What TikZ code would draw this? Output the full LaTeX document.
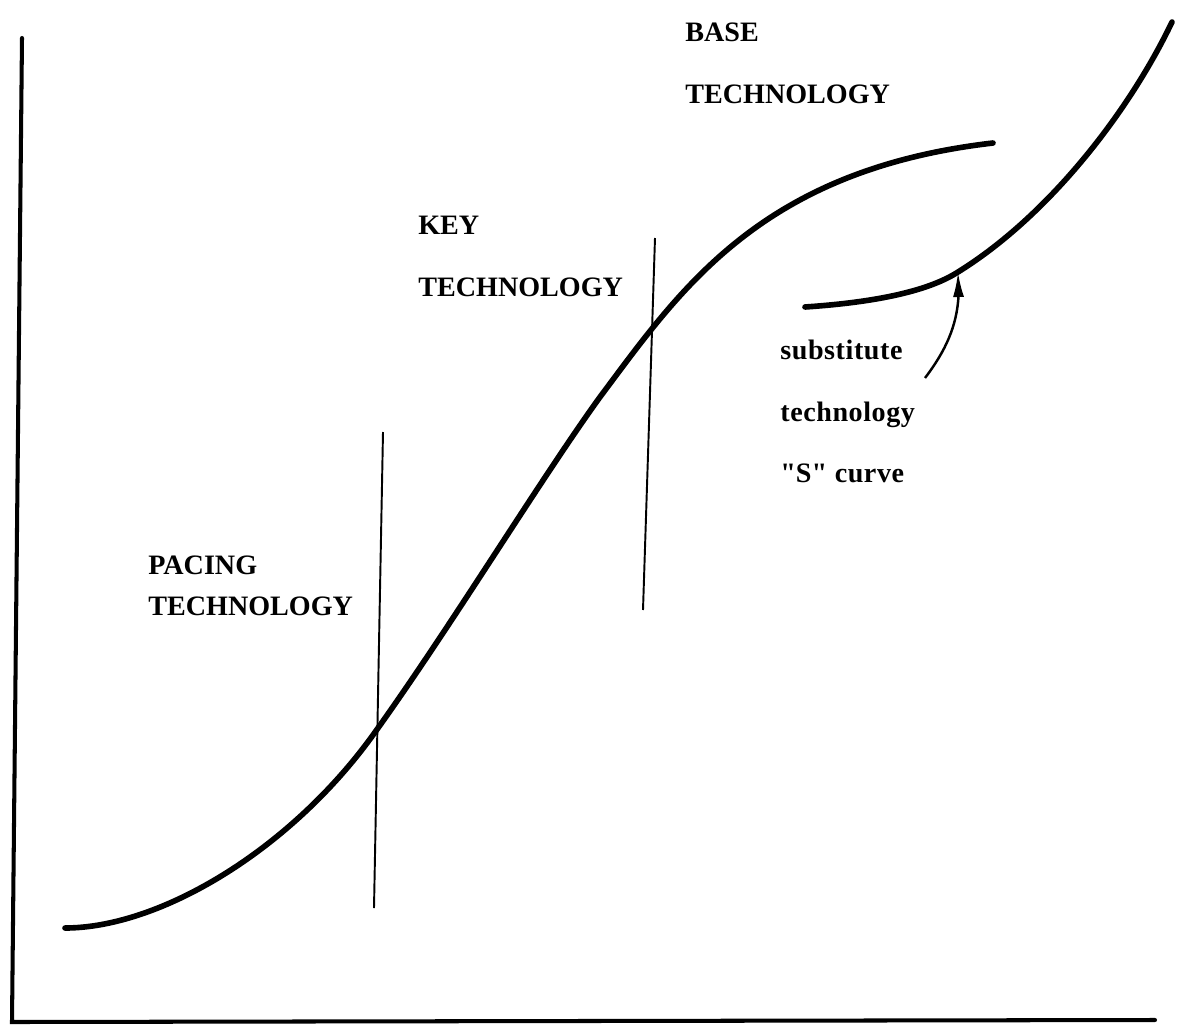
\documentclass[tikz,border=0pt]{standalone}
\usepackage{fontspec}
\setmainfont{Liberation Serif}
\usetikzlibrary{arrows.meta,bending,positioning}
\tikzset{
    %Define style for the axes
    axis/.style={
           line width=2.3pt,
           line cap=round},
    %Define style for the S curves
    scurve/.style={
           line width=3.2pt,
           line cap=round,
           line join=round},
    %Define style for the dividers
    divider/.style={
           line width=1.1pt},
    %Define style for the labels
    caps/.style={
           anchor=north west,
           inner sep=0pt,
           align=left,
           font=\fontsize{16}{35}\selectfont\bfseries},
    lower/.style={
           anchor=north west,
           inner sep=0pt,
           align=left,
           font=\fontsize{16}{35}\selectfont\bfseries\addfontfeatures{LetterSpace=2}},
    % Define arrow style
    pil/.style={
           -{Latex[length=0.5cm, width=0.22cm]},
           line width=1.4pt}
}
\begin{document}
\begin{tikzpicture}[x=0.02cm, y=-0.02cm]
\useasboundingbox (0,0) rectangle (1184,1028);

%axes
\draw[axis] (22,38) -- (12,1022) -- (1155,1020);

%main curve
\draw[scurve] (65,928)
  .. controls (160,928) and (290,850) .. (373,735)
  .. controls (450,628) and (540,480) .. (600,397)
  .. controls (680,290) and (760,170) .. (993,143);

%substitute curve
\coordinate (hit) at (958,272);
\draw[scurve] (805,307)
  .. controls (880,302) and (930,290) .. (hit)
  .. controls (1050,215) and (1130,110) .. (1172,22);
\coordinate (tail) at (925,378);

%dividers
\draw[divider] (383,432) -- (374,908);
\draw[divider] (655,238) -- (643,610);

%labels
\node[caps] (base) at (685,23) {BASE\\TECHNOLOGY};
\node[caps] (key) at (418,216) {KEY\\TECHNOLOGY};
\node[caps, font=\fontsize{16}{23}\selectfont\bfseries] (pacing) at (148,556) {PACING\\TECHNOLOGY};
\node[lower] (subst) at (780,340) {substitute\\technology\\\textquotedbl S\textquotedbl\ curve};

%arrow to the substitute curve
\draw[pil] (tail) .. controls (950,345) and (962,315) .. (hit);

\end{tikzpicture}
\end{document}
